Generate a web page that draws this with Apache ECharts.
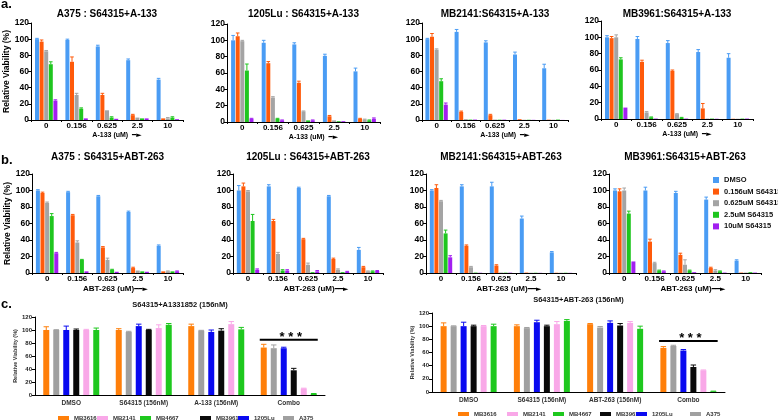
<!DOCTYPE html>
<html><head><meta charset="utf-8">
<script src="https://cdn.jsdelivr.net/npm/echarts@6/dist/echarts.min.js"></script>
<style>html,body{margin:0;padding:0;background:#fff}#c{width:778px;height:420px}</style>
</head><body><div id="c"></div><script>
// ---------- DATA ----------
const doses = ['0', '0.156', '0.625', '2.5', '10'];
const levels = ['DMSO', '0.156uM S64315', '0.625uM S64315', '2.5uM S64315', '10uM S64315'];

// rows = series (levels), cols = doses
const A375_A133 = [[100,99,91,74,50],[97,72,31,6,2],[85,31,12,3,2],[69,14,3,2,3],[24,2,1.5,2,1]];
const A375_A133_err = [[1,1,1.5,1.5,1.5],[2,6,2,1,0],[1,2,0,0,1],[3,1,1,0,1],[1,0,0,0,0]];
const Lu1205_A133 = [[100,97,95,81,62],[105,72,48,7,4],[99,30,13,2,3],[63,4,2,1,2],[4,2,2,1,4]];
const Lu1205_A133_err = [[6,3,2,2,4],[4,2,2,1,0.5],[1,1,0.5,0,0.5],[8,0.5,0,0,0.5],[0.5,0.5,0.5,0,1]];
const MB2141_A133 = [[100,109,96,81,64],[103,10,6,1,0.4],[87,1,0.5,0.3,0.3],[48,0.5,0.4,0.3,0.5],[19,0.5,0.4,0.2,0.1]];
const MB2141_A133_err = [[1,3,2,3,5],[4,1,1,0,0],[1,0,0,0,0],[3,0,0,0,0],[2,0,0,0,0]];
const MB3961_A133 = [[100,98,93,82,75],[99,70,59,13,0.3],[100,8,6,0.5,0.3],[73,2,1.5,0.5,0.5],[14,0.5,0.5,0.3,0.5]];
const MB3961_A133_err = [[2,3,3,3,5],[2,2,1,6,0],[3,1,0.5,0,0],[2,0.5,0.5,0,0],[0,0,0,0,0]];

const A375_ABT = [[100,98,93,74,33],[97,70,31,6,2],[85,37,16,3,2],[69,16,4,2,2],[24,2,1.5,1.5,2]];
const A375_ABT_err = [[1,1,1,1,1],[1,1,1,1,0],[1,2,2,0,0.5],[3,0.5,0.5,0,0],[1,0,0,0,0.5]];
const Lu1205_ABT = [[100,105,103,93,28],[105,63,41,17,7],[99,23,10,4,2],[63,3,1,1,2],[4,3,2,1.5,2.5]];
const Lu1205_ABT_err = [[6,2,1,1,3],[4,2,1,1,1],[1,2,2,1,0.5],[8,1,0,0,0.5],[1,1,1,0.5,0.5]];
const MB2141_ABT = [[100,105,105,66,25],[103,33,9,0.5,0.3],[87,7,0.5,0.3,0.3],[48,0.5,0.4,0.3,0.3],[19,0.3,0.4,0.2,0.2]];
const MB2141_ABT_err = [[1,2,5,3,1],[4,1,1,0,0],[1,1,0,0,0],[4,0,0,0,0],[2,0,0,0,0]];
const MB3961_ABT = [[100,100,97,89,15],[99,38,22,6,0.5],[100,12,10,3,0.5],[72,3,3,2,1],[14,2,1,0.5,0.5]];
const MB3961_ABT_err = [[2,4,2,3,1],[3,3,2,1,0],[3,1,6,1,0],[3,0.5,0.5,0.5,0],[0,0.5,0,0,0]];

// panel c
const cellLines = ['MB3616', 'A375', '1205Lu', 'MB3961', 'MB2141', 'MB4667'];
const legendOrderC = ['MB3616', 'MB2141', 'MB4667', 'MB3961', '1205Lu', 'A375'];
const catsC1 = ['DMSO', 'S64315 (156nM)', 'A-133 (156nM)', 'Combo'];
const catsC2 = ['DMSO', 'S64315 (156nM)', 'ABT-263 (156nM)', 'Combo'];
const comboA1331852 = [[100,100,106,73],[100,97,99,72],[100,106,97,72],[100,100,99,38],[100,103,109,10],[100,108,101,2]];
const comboA1331852_err = [[5,2,3,5],[0.5,1,0.5,5],[6,3,3,1.5],[1.5,1,3,3],[1,5,4,0.5],[3,2,3,0.3]];
const comboABT263 = [[100,100,103,67],[100,97,98,70],[100,106,105,63],[100,100,101,38],[100,103,105,33],[100,108,96,1]];
const comboABT263_err = [[5,2,1,2],[0.5,1,1.5,1],[6,3,3,1.5],[1.5,1.5,3,3],[1,4,2,0.5],[3,2,4,0.3]];
const sigC1 = [[3, 85]];
const sigC2 = [[3, 77.5]];

// ---------- STYLE ----------
const FONT = '"Liberation Sans", Arial, sans-serif';
const colorsAB = ['#4A9CF4', '#FF5A0A', '#A4A4A4', '#1FC61F', '#A21FF0'];
const colorMapC = {MB3616:'#FF7F0A', A375:'#A0A0A0', '1205Lu':'#0A0AF0', MB3961:'#0A0A0A', MB2141:'#F9A8E8', MB4667:'#1EC81E'};
const colorsC = cellLines.map(n => colorMapC[n]);

const option = {animation:false, textStyle:{fontFamily:FONT}, grid:[], xAxis:[], yAxis:[], series:[], legend:[], graphic:[]};

function errSeries(gi, vals, errs, colors, bw, gp) {
  const data = [];
  vals.forEach((row, s) => row.forEach((v, d) => data.push([d, s, v, errs[s][d]])));
  const n = vals.length;
  return {type:'custom', xAxisIndex:gi, yAxisIndex:gi, silent:true, z:3, encode:{x:0, y:2}, data,
    renderItem(params, api) {
      const d = api.value(0), s = api.value(1), v = api.value(2), e = api.value(3);
      if (!(e > 0)) return null;
      const b = api.coord([d, v]), t = api.coord([d, v + e]);
      const x = b[0] + (s - (n - 1) / 2) * (bw + gp);
      const h = bw * 0.45;
      const st = {stroke: colors[s], lineWidth: 1};
      return {type:'group', children:[
        {type:'line', shape:{x1:x, y1:b[1], x2:x, y2:t[1]}, style:st},
        {type:'line', shape:{x1:x-h, y1:t[1], x2:x+h, y2:t[1]}, style:st}]};
    }};
}

const panelsAB = [
  {title:'A375 : S64315+A-133', v:A375_A133, e:A375_A133_err, g:{left:31, top:23, width:152, height:97}, x:'A', y:true},
  {title:'1205Lu : S64315+A-133', v:Lu1205_A133, e:Lu1205_A133_err, g:{left:227, top:24, width:153, height:98}, x:'A'},
  {title:'MB2141:S64315+A-133', v:MB2141_A133, e:MB2141_A133_err, g:{left:422, top:23, width:146, height:97}, x:'A'},
  {title:'MB3961:S64315+A-133', v:MB3961_A133, e:MB3961_A133_err, g:{left:601, top:21, width:152, height:98}, x:'A'},
  {title:'A375 : S64315+ABT-263', v:A375_ABT, e:A375_ABT_err, g:{left:32, top:174, width:151, height:99}, x:'B', y:true},
  {title:'1205Lu : S64315+ABT-263', v:Lu1205_ABT, e:Lu1205_ABT_err, g:{left:233, top:174, width:150, height:99}, x:'B'},
  {title:'MB2141:S64315+ABT-263', v:MB2141_ABT, e:MB2141_ABT_err, g:{left:426, top:174, width:150, height:99}, x:'B'},
  {title:'MB3961:S64315+ABT-263', v:MB3961_ABT, e:MB3961_ABT_err, g:{left:609, top:174, width:152, height:99}, x:'B'}
];

const BW = 4, GAP = 0.6;
panelsAB.forEach((p, i) => {
  option.grid.push(p.g);
  const xName = p.x === 'A' ? '{t|A-133 (uM)}{s|  }{ar|━►}' : '{t|ABT-263 (uM)}{ar|━━►}';
  option.xAxis.push({type:'category', gridIndex:i, data:doses,
    axisLine:{lineStyle:{color:'#000', width:1}}, axisTick:{show:true, length:2, lineStyle:{color:'#000'}},
    axisLabel:{margin:2, fontSize:8, fontWeight:'bold', color:'#000'},
    name:xName, nameLocation:'middle', nameGap:12,
    nameTextStyle:{padding:[0,0,0,p.x === 'A' ? 20 : 16], rich:{
      t:{fontSize:p.x === 'A' ? 7 : 8, fontWeight:'bold', color:'#000', fontFamily:FONT},
      s:{fontSize:7},
      ar:{fontSize:7, color:'#000', fontFamily:'DejaVu Sans'}}}});
  option.yAxis.push({type:'value', gridIndex:i, min:0, max:120, interval:20, splitLine:{show:false},
    axisLine:{show:true, lineStyle:{color:'#000'}}, axisTick:{show:true, length:3, lineStyle:{color:'#000'}},
    axisLabel:{margin:2, fontSize:8.5, fontWeight:'bold', color:'#000'},
    name:p.y ? 'Relative Viability (%)' : '', nameLocation:'middle', nameGap:15,
    nameTextStyle:{fontSize:8.5, fontWeight:'bold', color:'#000'}});
  p.v.forEach((row, s) => option.series.push({type:'bar', name:levels[s], xAxisIndex:i, yAxisIndex:i, data:row,
    barWidth:BW, barGap:(GAP / BW * 100) + '%', itemStyle:{color:colorsAB[s]}, silent:true}));
  option.series.push(errSeries(i, p.v, p.e, colorsAB, BW, GAP));
  option.graphic.push({type:'text', x:p.g.left + p.g.width / 2, y:i < 4 ? 14 : 157,
    style:{text:p.title, textAlign:'center', textVerticalAlign:'middle', font:'bold 10px ' + FONT, fill:'#000'}});
});

// panel c
const panelsC = [
  {title:'S64315+A1331852 (156nM)', cats:catsC1, v:comboA1331852, e:comboA1331852_err, sig:sigC1,
   g:{left:35, top:317, width:290, height:78}, ty:305, ly:414.5, nameGap:12,
   legendX:[58, 97, 140, 200, 238, 283]},
  {title:'S64315+ABT-263 (156nM)', cats:catsC2, v:comboABT263, e:comboABT263_err, sig:sigC2,
   g:{left:432, top:313, width:293, height:79}, ty:300, ly:410.5, nameGap:10,
   legendX:[458, 507, 553, 600, 636, 690]}
];
const BWC = 6, GAPC = 4;
panelsC.forEach((p, k) => {
  const i = 8 + k;
  option.grid.push(p.g);
  option.xAxis.push({type:'category', gridIndex:i, data:p.cats,
    axisLine:{lineStyle:{color:'#000', width:1}}, axisTick:{show:false},
    axisLabel:{margin:5, fontSize:6.5, fontWeight:'bold', color:'#333'}});
  option.yAxis.push({type:'value', gridIndex:i, min:0, max:120, interval:20, splitLine:{show:false},
    axisLine:{show:true, lineStyle:{color:'#000'}}, axisTick:{show:true, length:3, lineStyle:{color:'#000'}},
    axisLabel:{margin:3, fontSize:6, fontWeight:'bold', color:'#222'},
    name:'Relative Viability (%)', nameLocation:'middle', nameGap:p.nameGap,
    nameTextStyle:{fontSize:5.5, fontWeight:'bold', color:'#333'}});
  p.v.forEach((row, s) => option.series.push({type:'bar', name:cellLines[s], xAxisIndex:i, yAxisIndex:i, data:row,
    barWidth:BWC, barGap:(GAPC / BWC * 100) + '%', itemStyle:{color:colorsC[s]}, silent:true}));
  option.series.push(errSeries(i, p.v, p.e, colorsC, BWC, GAPC));
  option.series.push({type:'custom', xAxisIndex:i, yAxisIndex:i, silent:true, z:4, encode:{x:0, y:1}, data:p.sig,
    renderItem(params, api) {
      const c = api.coord([api.value(0), api.value(1)]);
      const w = api.size([1, 0])[0];
      const h = w * 0.4;
      return {type:'group', children:[
        {type:'line', shape:{x1:c[0] - h, y1:c[1], x2:c[0] + h, y2:c[1]}, style:{stroke:'#000', lineWidth:2}},
        {type:'text', x:c[0] + 2, y:c[1] + 4, style:{text:'* * *', textAlign:'center', textVerticalAlign:'bottom', font:'bold 13px ' + FONT, fill:'#000'}}]};
    }});
  option.graphic.push({type:'text', x:p.g.left + p.g.width / 2, y:p.ty,
    style:{text:p.title, textAlign:'center', textVerticalAlign:'middle', font:'bold 7.5px ' + FONT, fill:'#111'}});
  legendOrderC.forEach((name, j) => option.legend.push({data:[name], left:p.legendX[j], top:p.ly, icon:'rect',
    itemWidth:11, itemHeight:4, padding:0, textStyle:{fontSize:6, fontWeight:'bold', color:'#333', lineHeight:7}}));
});

// legend panel b
option.legend.push({data:levels, orient:'vertical', left:713, top:175, icon:'rect', itemWidth:6, itemHeight:6,
  itemGap:1.6, padding:0, textStyle:{fontFamily:FONT, fontWeight:'bold', fontSize:7.5, color:'#111', lineHeight:10}});

// panel letters
[['a.', 4], ['b.', 160], ['c.', 304]].forEach(([t, y]) => option.graphic.push({type:'text', x:1, y:y,
  style:{text:t, textAlign:'left', textVerticalAlign:'middle', font:'bold 13px ' + FONT, fill:'#000'}}));

const chart = echarts.init(document.getElementById('c'), null, {renderer:'canvas'});
chart.setOption(option);
</script></body></html>
